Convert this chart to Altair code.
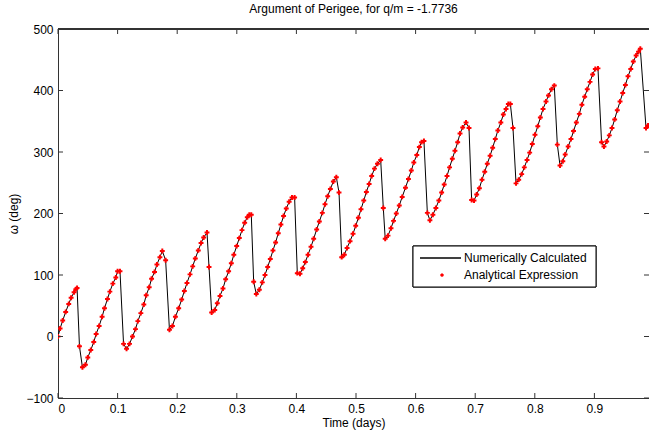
import altair as alt
import pandas as pd

# Time (days) of each sample and argument of perigee (deg)
time_days = [
    0.000, 0.0035, 0.0079, 0.0129, 0.018, 0.022, 0.027, 0.030, 0.032, 0.036,
    0.041, 0.046, 0.050, 0.055, 0.060, 0.064, 0.069, 0.074, 0.078, 0.083, 0.087, 0.092, 0.097, 0.100, 0.104,
    0.110, 0.115, 0.120, 0.125, 0.130, 0.134, 0.139, 0.144, 0.148, 0.153, 0.157, 0.162, 0.166, 0.171, 0.175, 0.1806,
    0.187, 0.192, 0.197, 0.2025, 0.2075, 0.212, 0.2164, 0.2215, 0.226, 0.2304, 0.2354, 0.240, 0.2444, 0.250, 0.2534,
    0.2578, 0.263, 0.2673, 0.2718, 0.2768, 0.2813, 0.2863, 0.2908, 0.295, 0.2998, 0.3042, 0.3087, 0.3132, 0.3176, 0.321, 0.3243, 0.3283,
    0.3327, 0.3378, 0.3428, 0.3473, 0.3518, 0.3562, 0.3607, 0.3651, 0.3696, 0.374, 0.3785, 0.383, 0.3878, 0.3926, 0.397,
    0.4015, 0.406, 0.4106, 0.415, 0.4195, 0.4245, 0.429, 0.434, 0.4385, 0.4435, 0.448, 0.4525, 0.457, 0.462, 0.467, 0.4715,
    0.476, 0.4804, 0.485, 0.490, 0.495, 0.4995, 0.504, 0.5084, 0.513, 0.5174, 0.522, 0.5263, 0.531, 0.536, 0.5414, 0.5458,
    0.549, 0.5537, 0.5587, 0.563, 0.5676, 0.5726, 0.5775, 0.583, 0.588, 0.5928, 0.597, 0.602, 0.6063, 0.610, 0.614, 0.6197,
    0.624, 0.629, 0.634, 0.639, 0.6437, 0.648, 0.6527, 0.657, 0.6616, 0.666, 0.6706, 0.6745, 0.679, 0.6846, 0.6896,
    0.694, 0.698, 0.7025, 0.707, 0.7114, 0.716, 0.7203, 0.725, 0.7293, 0.7337, 0.738, 0.743, 0.7472, 0.7517, 0.7556, 0.759, 0.7634,
    0.7685, 0.773, 0.778, 0.7824, 0.787, 0.7914, 0.7958, 0.8003, 0.805, 0.8093, 0.8138, 0.8188, 0.823, 0.828, 0.8327, 0.8378,
    0.8423, 0.847, 0.851, 0.856, 0.8607, 0.865, 0.8697, 0.8747, 0.879, 0.8837, 0.888, 0.8926, 0.897, 0.9015, 0.906,
    0.912, 0.916, 0.9206, 0.925, 0.9295, 0.934, 0.9384, 0.943, 0.9475, 0.952, 0.9564, 0.961, 0.9653, 0.970, 0.974, 0.977, 0.9866, 0.990,
]
omega_deg = [
    0, 13, 26, 40, 53, 63, 72, 77, 79, -16,
    -50, -46, -34, -22, -9, 4, 17, 32, 46, 61, 73, 86, 96, 106, 106,
    -12, -20, -12, 0, 12, 25, 38, 52, 67, 80, 94, 105, 117, 129, 139, 124,
    11, 17, 32, 46, 60, 74, 87, 101, 114, 127, 140, 152, 161, 169, 113,
    39, 43, 54, 66, 78, 93, 106, 119, 133, 147, 160, 173, 185, 194, 198, 198, 89,
    69, 76, 88, 100, 113, 126, 140, 153, 168, 182, 196, 208, 219, 226, 226,
    103, 102, 111, 121, 133, 146, 159, 174, 187, 201, 215, 228, 240, 252, 259, 234,
    129, 133, 144, 155, 167, 180, 193, 207, 221, 235, 248, 261, 273, 281, 287, 209,
    159, 164, 176, 188, 200, 213, 227, 242, 256, 270, 283, 295, 308, 316, 318, 201,
    189, 198, 209, 221, 234, 247, 261, 275, 289, 302, 316, 330, 340, 348, 339,
    222, 221, 231, 241, 255, 268, 281, 294, 307, 321, 335, 348, 361, 370, 378, 378, 339,
    249, 255, 264, 275, 287, 299, 313, 328, 342, 356, 370, 382, 392, 402, 408, 312,
    278, 285, 296, 309, 321, 334, 348, 362, 377, 390, 402, 414, 426, 435, 436,
    316, 309, 317, 327, 339, 353, 368, 382, 396, 409, 423, 435, 447, 457, 463, 468, 339, 343,
]

x_ticks = [0, 0.1, 0.2, 0.3, 0.4, 0.5, 0.6, 0.7, 0.8, 0.9]
y_ticks = [-100, 0, 100, 200, 300, 400, 500]
legend_labels = ["Numerically Calculated", "Analytical Expression"]

W, H = 591, 369
FONT = "Liberation Sans"

df = pd.DataFrame({"t": time_days, "w": omega_deg})
xt = pd.DataFrame({"v": x_ticks})
yt = pd.DataFrame({"v": y_ticks})

xscale = alt.Scale(domain=[0, 0.9916], nice=False, zero=False)
yscale = alt.Scale(domain=[-100, 500], nice=False, zero=False)

axis_font = dict(labelFont=FONT, labelFontSize=12, labelColor="black",
                 titleFont=FONT, titleFontSize=12, titleFontWeight="normal",
                 titleColor="black")
xaxis = alt.Axis(values=x_ticks, format="~g", title="Time (days)", ticks=False,
                 grid=False, domain=True, domainColor="#333333", labelPadding=5,
                 titlePadding=3, **axis_font)
yaxis = alt.Axis(values=y_ticks, format="d", title="ω (deg)", ticks=False,
                 grid=False, domain=True, domainColor="#333333", labelPadding=5,
                 titlePadding=5, **axis_font)

line = alt.Chart(df).mark_line(color="black", strokeWidth=1, clip=True).encode(
    x=alt.X("t:Q", scale=xscale, axis=xaxis),
    y=alt.Y("w:Q", scale=yscale, axis=yaxis),
)
pts = alt.Chart(df).mark_point(shape="cross", filled=True, color="#ff0000",
                               size=24, strokeWidth=0, opacity=1, clip=True).encode(
    x=alt.X("t:Q", scale=xscale),
    y=alt.Y("w:Q", scale=yscale),
)

tick_style = dict(color="#333333", strokeWidth=1)
xt_bottom = alt.Chart(xt).mark_rule(**tick_style).encode(
    x=alt.X("v:Q", scale=xscale), y=alt.value(H), y2=alt.value(H - 5))
xt_top = alt.Chart(xt).mark_rule(**tick_style).encode(
    x=alt.X("v:Q", scale=xscale), y=alt.value(0), y2=alt.value(5))
yt_left = alt.Chart(yt).mark_rule(**tick_style).encode(
    y=alt.Y("v:Q", scale=yscale), x=alt.value(0), x2=alt.value(5))
yt_right = alt.Chart(yt).mark_rule(**tick_style).encode(
    y=alt.Y("v:Q", scale=yscale), x=alt.value(W - 5), x2=alt.value(W))
top_border = alt.Chart(xt).mark_rule(**tick_style).encode(
    x=alt.value(0), x2=alt.value(W), y=alt.value(0))

# legend box (layout)
leg_df = pd.DataFrame({"label": legend_labels})
leg_box = alt.Chart(leg_df).mark_rect(fill="white", stroke="black", strokeWidth=1).encode(
    x=alt.value(355), x2=alt.value(538), y=alt.value(217), y2=alt.value(258))
leg_line = alt.Chart(leg_df).mark_rule(color="black", strokeWidth=1).encode(
    x=alt.value(362), x2=alt.value(403), y=alt.value(229))
leg_dot = alt.Chart(leg_df).mark_point(shape="circle", filled=True, color="#ff0000",
                                       size=10, opacity=1).encode(
    x=alt.value(384), y=alt.value(246))
leg_t1 = alt.Chart(leg_df).transform_filter(alt.datum.label == legend_labels[0]).mark_text(
    align="left", baseline="middle", font=FONT, fontSize=12, color="black").encode(
    x=alt.value(406), y=alt.value(229), text="label:N")
leg_t2 = alt.Chart(leg_df).transform_filter(alt.datum.label == legend_labels[1]).mark_text(
    align="left", baseline="middle", font=FONT, fontSize=12, color="black").encode(
    x=alt.value(406), y=alt.value(246), text="label:N")

chart = alt.layer(
    line, pts, xt_bottom, xt_top, yt_left, yt_right, top_border,
    leg_box, leg_line, leg_dot, leg_t1, leg_t2,
).properties(
    width=W, height=H,
    title=alt.TitleParams("Argument of Perigee, for q/m = -1.7736", font=FONT,
                          fontSize=12, fontWeight="normal", color="black",
                          anchor="middle", offset=7),
    padding={"left": 58, "top": 29, "right": 0, "bottom": 37},
    autosize=alt.AutoSizeParams(type="none"),
).configure_view(stroke=None).configure(background="white")

chart.save("out.html", embed_options={"renderer": "svg", "actions": False})
